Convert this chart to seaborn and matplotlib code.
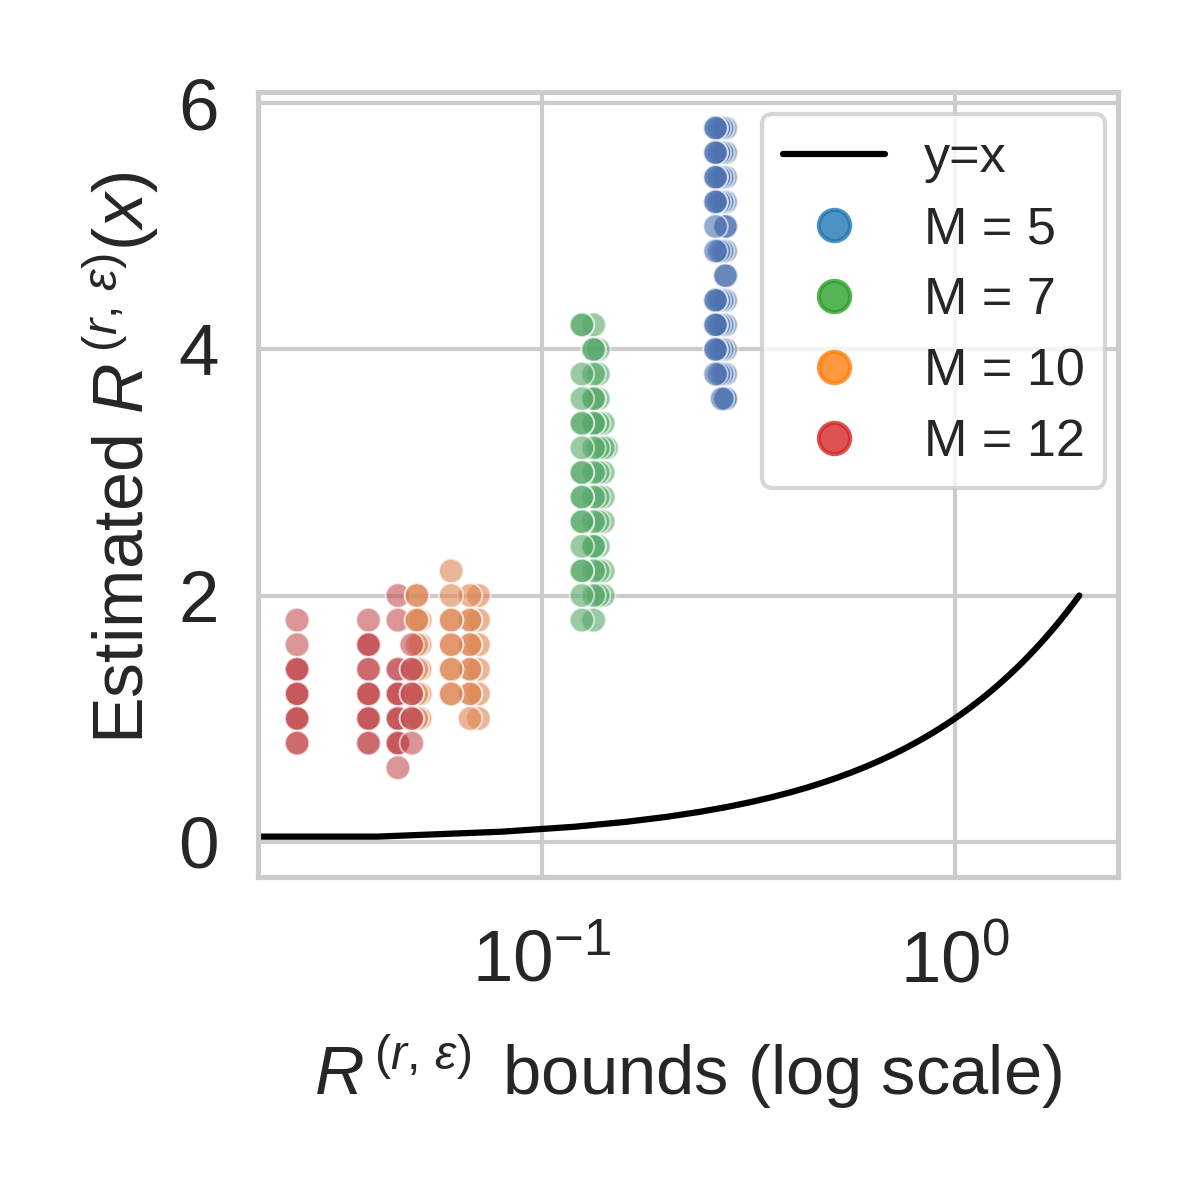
import numpy as np
import pandas as pd
import matplotlib
matplotlib.use("Agg")
import matplotlib.pyplot as plt
from matplotlib.lines import Line2D
import seaborn as sns

# ---------------- data ----------------
# M = 5 : columns of bound values (x) with the estimated values (y) at each
m5_x = [0.2786, 0.2735, 0.2686, 0.2636]
m5_y = [
    [5.8, 5.6, 5.4, 5.2, 5.0, 5.0, 4.8, 4.6, 4.6, 4.4, 4.2, 4.0, 3.8, 3.6, 3.6],
    [5.8, 5.6, 5.4, 5.2, 4.8, 4.4, 4.2, 4.0, 3.8, 3.6],
    [5.8, 5.6, 5.4, 5.2, 4.8, 4.4, 4.2, 4.0, 3.8],
    [5.8, 5.8, 5.6, 5.6, 5.4, 5.4, 5.2, 5.2, 5.0, 4.8, 4.4, 4.4, 4.2, 4.2, 4.0, 4.0, 3.8],
]
# M = 7
m7_x = [0.1435, 0.1409, 0.1371, 0.1336, 0.1252]
m7_y = [
    [3.2],
    [3.4, 3.2, 3.0, 2.8, 2.6, 2.2, 2.0],
    [4.0, 3.8, 3.6, 3.4, 3.2, 3.0, 2.8, 2.6, 2.4, 2.2, 2.0],
    [4.2, 4.0, 4.0, 3.8, 3.6, 3.6, 3.4, 3.4, 3.2, 3.0, 2.8, 2.6, 2.4, 2.4, 2.2, 2.0, 1.8],
    [4.2, 4.2, 3.8, 3.6, 3.4, 3.4, 3.2, 3.0, 3.0, 2.8, 2.8, 2.6, 2.6, 2.4, 2.2, 2.2, 2.0, 1.8],
]
# M = 10
m10_x = [0.0703, 0.0671, 0.0604, 0.0508, 0.0499]
m10_y = [
    [2.0, 1.8, 1.6, 1.4, 1.2, 1.0],
    [2.0, 1.8, 1.8, 1.6, 1.6, 1.4, 1.4, 1.2, 1.2, 1.0],
    [2.2, 2.0, 1.8, 1.8, 1.6, 1.6, 1.4, 1.4, 1.2, 1.2],
    [1.8, 1.6, 1.4, 1.2, 1.0],
    [2.0, 2.0, 1.8, 1.8, 1.6, 1.4, 1.2, 1.0],
]
# M = 12
m12_x = [0.0449, 0.0381, 0.0256, 0.0485]
m12_y = [
    [2.0, 1.8, 1.4, 1.4, 1.2, 1.2, 1.2, 1.0, 1.0, 1.0, 0.8, 0.8, 0.8, 0.6],
    [1.8, 1.6, 1.6, 1.6, 1.4, 1.4, 1.2, 1.2, 1.2, 1.0, 1.0, 1.0, 0.8, 0.8],
    [1.8, 1.6, 1.4, 1.4, 1.4, 1.2, 1.2, 1.2, 1.0, 1.0, 1.0, 0.8, 0.8],
    [1.6, 1.4, 1.4, 1.2, 1.2, 1.0, 1.0, 0.8],
]
m_values = [5, 7, 10, 12]
legend_labels = ["M = 5", "M = 7", "M = 10", "M = 12"]

# reference line y = x
line_x = np.linspace(0, 2, 51)
line_y = line_x

# ---------------- build table ----------------
rows = []
def add(m, xs, ys, idx=None):
    cols = range(len(xs)) if idx is None else idx
    for i in cols:
        for y in ys[i]:
            rows.append({"bound": xs[i], "est": y, "M": m})

add(7, m7_x, m7_y)
add(5, m5_x, m5_y)
add(12, m12_x, m12_y, idx=[2, 1, 0])
add(10, m10_x, m10_y)
add(12, m12_x, m12_y, idx=[3])
df = pd.DataFrame(rows)

# ---------------- style ----------------
sns.set_theme(style="whitegrid")
plt.rcParams["font.family"] = ["Liberation Sans", "DejaVu Sans"]
plt.rcParams["mathtext.fontset"] = "custom"
plt.rcParams["mathtext.rm"] = "Liberation Sans"
plt.rcParams["mathtext.it"] = "Liberation Sans:italic"
plt.rcParams["mathtext.bf"] = "Liberation Sans:bold"

deep = sns.color_palette("deep")
palette = {5: deep[0], 7: deep[2], 10: deep[1], 12: deep[3]}
legend_colors = ["tab:blue", "tab:green", "tab:orange", "tab:red"]

fig, ax = plt.subplots(figsize=(4, 4), dpi=300)
fig.subplots_adjust(left=0.215, right=0.932, bottom=0.269, top=0.923)

ax.plot(line_x, line_y, color="black", lw=1.5)
sns.scatterplot(data=df, x="bound", y="est", hue="M", palette=palette,
                alpha=0.6, s=34, ax=ax, legend=False)
ax.set_xscale("log")

ax.set_xlabel(r"$R^{\,(r,\,\varepsilon)}\,$ bounds (log scale)", fontsize=16.5,
              labelpad=8.5)
ax.set_ylabel(r"Estimated $R^{\,(r,\,\varepsilon)}(x)$", fontsize=16.8)
ax.yaxis.label.set_y(0.535)
ax.tick_params(axis="both", labelsize=17.5)
ax.tick_params(axis="x", pad=plt.rcParams["xtick.major.pad"] + 3)

handles = [Line2D([], [], color="black", lw=1.5, label="y=x")]
for c, lab in zip(legend_colors, legend_labels):
    handles.append(Line2D([], [], marker="o", linestyle="", color=c, alpha=0.8,
                          markersize=7.5, markeredgewidth=1, label=lab))
ax.legend(handles=handles, loc="upper right", fontsize=12.5,
          bbox_to_anchor=(0.985, 0.973), borderaxespad=0,
          labelspacing=0.42, handlelength=1.95, handletextpad=0.75)

fig.savefig("out.png", dpi=300)
